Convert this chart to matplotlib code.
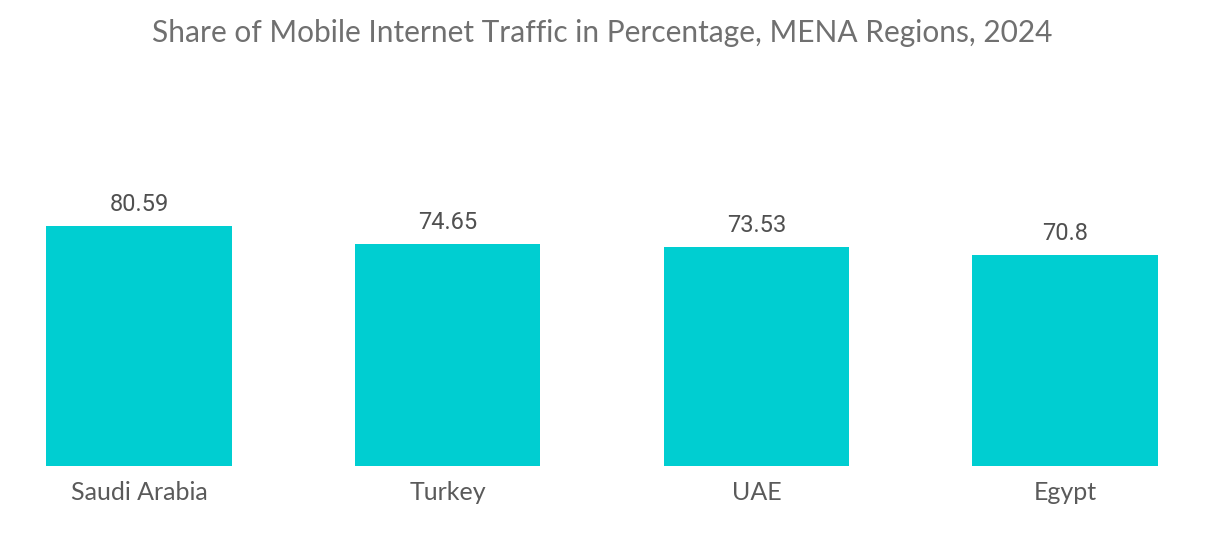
import matplotlib
matplotlib.use('Agg')
import matplotlib.pyplot as plt

# data
countries = ['Saudi Arabia', 'Turkey', 'UAE', 'Egypt']
traffic_share = [80.59, 74.65, 73.53, 70.8]
value_labels = ['80.59', '74.65', '73.53', '70.8']

bar_color = '#00CED1'
text_color = '#5a5a5a'

fig = plt.figure(figsize=(12.21, 5.43), dpi=100)
ax = fig.add_axes([0, 0.1418, 1, 0.5488])

x = range(len(countries))
bars = ax.bar(x, traffic_share, width=0.6, color=bar_color)

for bar, label in zip(bars, value_labels):
    ax.text(bar.get_x() + bar.get_width() / 2, bar.get_height() + 3.3, label,
            ha='center', va='bottom', fontsize=17, color='#505050',
            family='Roboto')

ax.set_xlim(-0.450, 3.505)
ax.set_ylim(0, 100)
ax.set_xticks(list(x))
ax.set_xticklabels(countries, fontsize=18, color=text_color, family='Lato')
ax.tick_params(axis='x', length=0, pad=11)
ax.set_yticks([])
for s in ax.spines.values():
    s.set_visible(False)

fig.text(0.493, 0.94, 'Share of Mobile Internet Traffic in Percentage, MENA Regions, 2024',
         ha='center', va='center', fontsize=21.5, color='#707070', family='Lato')

fig.savefig('out.png', dpi=100)
